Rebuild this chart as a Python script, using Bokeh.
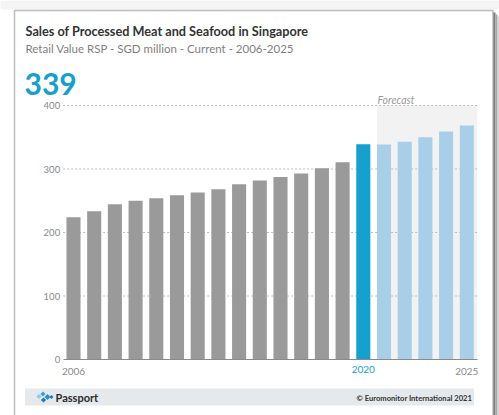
from bokeh.plotting import figure
from bokeh.models import (Label, BoxAnnotation, PolyAnnotation, FixedTicker, ColumnDataSource,
                          Range1d, LinearAxis, Grid)
from bokeh.embed import file_html
from bokeh.resources import INLINE

years = list(range(2006, 2026))
values = [224, 233.5, 244.5, 250, 254, 258.5, 263, 268, 276, 282,
          287.5, 293, 301, 310.5, 339, 338.5, 343, 350, 359, 368.5]
current_year = 2020
headline = "339"
y_ticks = [0, 100, 200, 300, 400]
x_tick_labels = [2006, 2025]
title = "Sales of Processed Meat and Seafood in Singapore"
subtitle = "Retail Value RSP - SGD million - Current - 2006-2025"

FONT = "Lato"
GREY_BAR, CUR_BAR, FC_BAR = "#9a9a9a", "#15a0cd", "#a8cfe7"
colors = [GREY_BAR if yr < current_year else CUR_BAR if yr == current_year else FC_BAR for yr in years]
src = ColumnDataSource(dict(x=years, top=values, color=colors))

W, H = 499, 415
# pixel geometry of the chart area (page pixels)
PX_FIRST, PX_STEP = 73.0, 20.7      # centre of first bar, spacing
PY_ZERO, PX_PER_UNIT = 359.0, 0.635
x0 = years[0] - PX_FIRST / PX_STEP
y0 = -(H - PY_ZERO) / PX_PER_UNIT
p = figure(width=W, height=H, output_backend="svg", toolbar_location=None,
           x_range=Range1d(x0, x0 + W / PX_STEP), y_range=Range1d(y0, y0 + H / PX_PER_UNIT),
           x_axis_location=None, y_axis_location=None,
           min_border=0, min_border_left=0, min_border_right=0, min_border_top=0, min_border_bottom=0)
p.outline_line_color = None
p.background_fill_color = "white"
p.border_fill_color = "white"
for r in list(p.center):
    if isinstance(r, Grid):
        r.visible = False

x_lo, x_hi = years[0] - 0.5, years[-1] + 0.5

# forecast shading
p.add_layout(BoxAnnotation(left=current_year + 0.66, right=x_hi, bottom=y_ticks[0], top=y_ticks[-1],
                           fill_color="#f2f2f2", fill_alpha=1, line_color=None, level="image"))

# dotted gridlines
gsrc = ColumnDataSource(dict(y=y_ticks[1:], x0=[x_lo] * 4, x1=[x_hi] * 4))
p.segment(x0="x0", x1="x1", y0="y", y1="y", source=gsrc, line_color="#bdbdbd",
          line_dash="2 2", line_width=1)

p.vbar(x="x", top="top", width=0.68, color="color", line_color=None, source=src)

yax = LinearAxis(fixed_location=x_lo, bounds=(y_ticks[0], y_ticks[-1]))
yax.ticker = FixedTicker(ticks=y_ticks)
yax.axis_line_color = None
yax.major_tick_line_color = None
yax.minor_tick_line_color = None
yax.major_tick_out = 0
yax.major_tick_in = 0
yax.minor_tick_out = 0
yax.major_label_text_color = "#8a8a8a"
yax.major_label_text_font = FONT
yax.major_label_text_font_size = "9.5px"
yax.major_label_standoff = 3
p.add_layout(yax, "left")

xax = LinearAxis(fixed_location=0, bounds=(x_lo, x_hi))
xax.ticker = FixedTicker(ticks=x_tick_labels)
xax.axis_line_color = "#8a8a8a"
xax.major_tick_line_color = None
xax.minor_tick_line_color = None
xax.major_tick_out = 0
xax.major_tick_in = 0
xax.minor_tick_out = 0
xax.major_label_text_color = "#8a8a8a"
xax.major_label_text_font = FONT
xax.major_label_text_font_size = "10px"
xax.major_label_standoff = 8
p.add_layout(xax, "below")

# screen units: x = page px, y = H - page py
def lbl(text, x, y, size, color, style="normal", align="left", baseline="alphabetic", x_units="screen"):
    p.add_layout(Label(x=x, y=y, x_units=x_units, y_units="screen", text=text,
                       text_font=FONT, text_font_size=size, text_color=color,
                       text_font_style=style, text_align=align, text_baseline=baseline))

lbl(str(current_year), current_year, H - 365, "10px", CUR_BAR, align="center", baseline="top", x_units="data")
lbl(title, 25, H - 30.5, "12.7px", "#333333", style="bold")
lbl(subtitle, 25, H - 47.5, "11.5px", "#7f7f7f")
lbl(headline, 24, H - 83.5, "30px", "#17a0cd", style="bold")
lbl("Forecast", 377, H - 99.5, "10.5px", "#9a9a9a", style="italic")

def sbox(l, r, t, b, color, alpha=1.0, line=None, lw=1):
    p.add_layout(BoxAnnotation(left=l, right=r, top=H - t, bottom=H - b,
                               left_units="screen", right_units="screen", top_units="screen", bottom_units="screen",
                               fill_color=color, fill_alpha=alpha, line_color=line, line_width=lw))

# light top band and right shadow of the card
sbox(0, 499, 0, 9, "#f4f4f4")
sbox(493, 495, 12, 420, "#7d7d7d")
sbox(495, 497, 14, 420, "#a8a8a8")
sbox(497, 499, 16, 420, "#d2d2d2")

# footer band
sbox(24.5, 473.5, 388, 405, "#e5e9ec")
lbl("Passport", 55, H - 397, "11px", "#2b2b2b", style="bold", baseline="middle")
lbl("\u00a9 Euromonitor International 2021", 471.5, H - 397, "7.6px", "#333333", style="bold",
    align="right", baseline="middle")

def diamond(cx, cy, r, color):
    p.add_layout(PolyAnnotation(xs=[cx - r, cx, cx + r, cx], ys=[H - cy, H - cy - r, H - cy, H - cy + r],
                                xs_units="screen", ys_units="screen",
                                fill_color=color, fill_alpha=1, line_color=None))

diamond(38.5, 396, 2.6, "#8ccbec")
diamond(42.5, 393.5, 2.6, "#3d9fd8")
diamond(43, 399.5, 2.6, "#1d78bf")
diamond(47, 396.5, 3.0, "#2a8fd0")
diamond(51, 396.5, 2.0, "#1d78bf")

# card outline
sbox(14, 492.5, 10, 430, "white", alpha=0, line="#262626", lw=1.5)

open("out.html", "w").write(file_html(p, INLINE))
